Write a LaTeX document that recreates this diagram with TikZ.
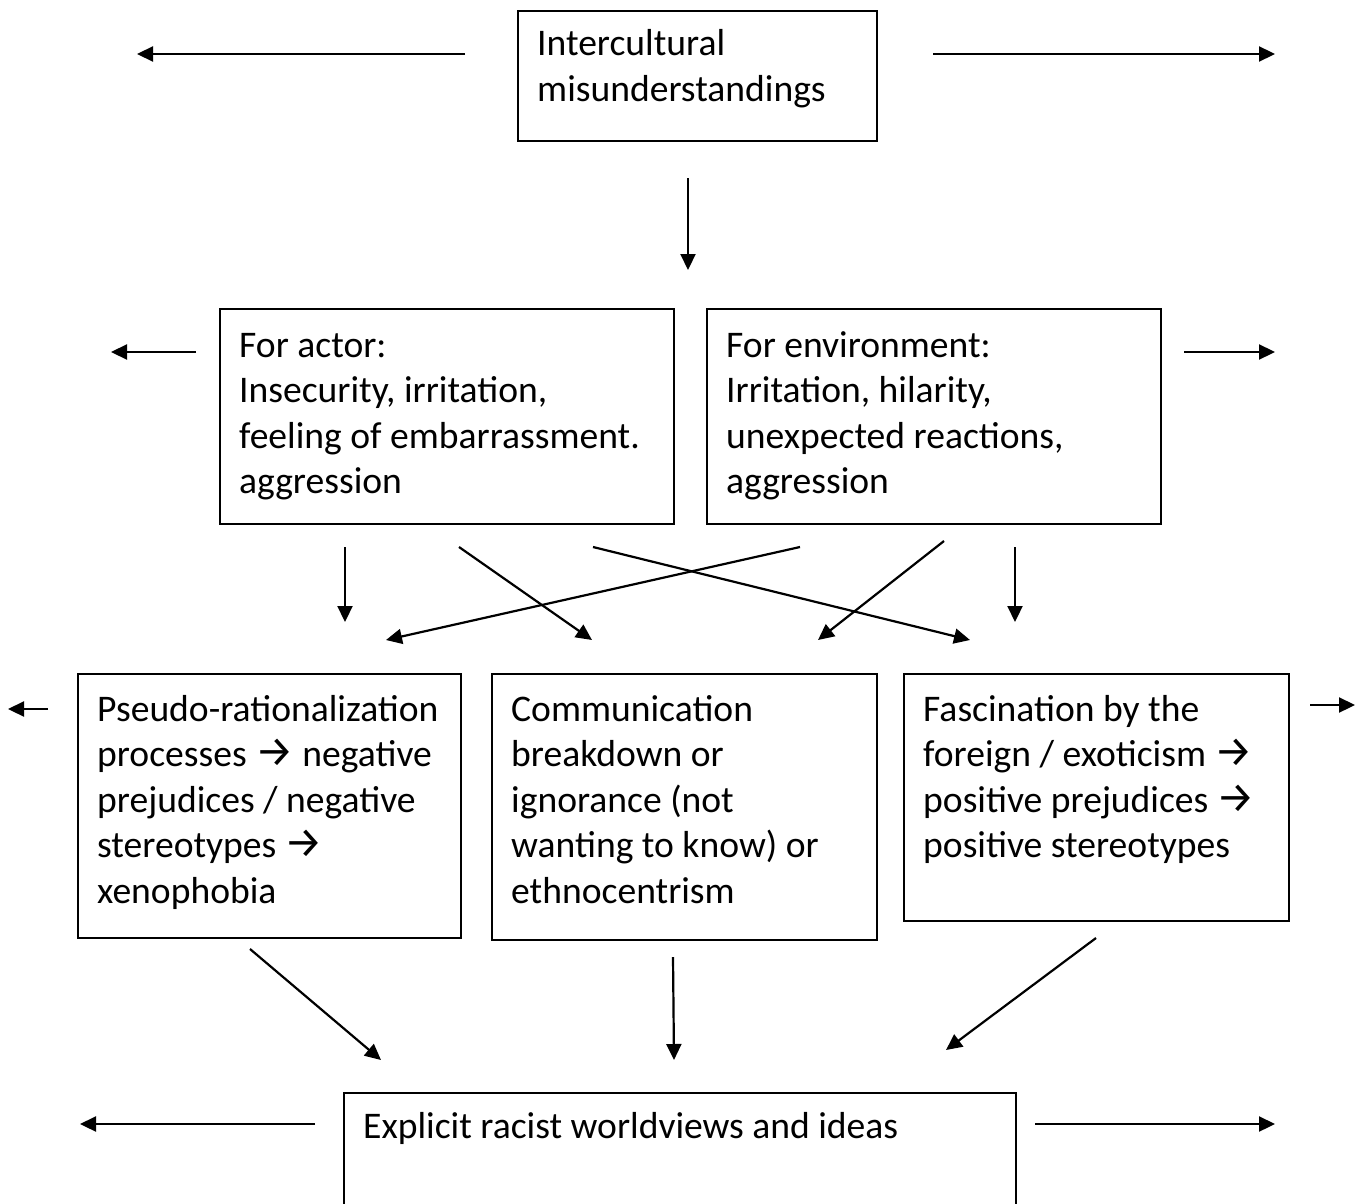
\documentclass[tikz,border=0pt]{standalone}
\usepackage{fontspec}
\setmainfont{Carlito}
\newfontfamily\arrfnt{Fira Sans}
\usetikzlibrary{arrows.meta}
\newcommand{\rarr}{{\arrfnt\fontsize{43}{45.5}\selectfont →}}
\begin{document}
\begin{tikzpicture}[x=1pt,y=-1pt,
  box/.style={draw, line width=1.6pt, rectangle, inner sep=0pt, anchor=north west},
  txt/.style={anchor=base west, inner sep=0pt, align=left, font=\fontsize{37.6}{45.5}\selectfont},
  arr/.style={line width=2.2pt, -{Triangle[length=16pt,width=15pt]}}]
\clip (0,0) rectangle (1362,1204);
\fill[white] (0,0) rectangle (1362,1204);
% boxes
\node[box, minimum width=359pt, minimum height=130pt] (top) at (517,10) {};
\node[box, minimum width=454pt, minimum height=215pt] (actor) at (219,308) {};
\node[box, minimum width=454pt, minimum height=215pt] (env) at (706,308) {};
\node[box, minimum width=383pt, minimum height=264pt] (pseudo) at (77,673) {};
\node[box, minimum width=385pt, minimum height=266pt] (comm) at (491,673) {};
\node[box, minimum width=385pt, minimum height=247pt] (fasc) at (903,673) {};
\node[box, minimum width=672pt, minimum height=160pt] (racist) at (343,1092) {};
% texts (base anchor = baseline of last line)
\node[txt] (ttop) at ([xshift=20pt,yshift=-91.5pt]top.north west) {Intercultural\\misunderstandings};
\node[txt] (tactor) at ([xshift=20pt,yshift=-185.5pt]actor.north west) {For actor:\\Insecurity, irritation,\\feeling of embarrassment.\\aggression};
\node[txt] (tenv) at ([xshift=20pt,yshift=-185.5pt]env.north west) {For environment:\\Irritation, hilarity,\\unexpected reactions,\\aggression};
\node[txt] (tpseudo) at ([xshift=20pt,yshift=-230pt]pseudo.north west) {Pseudo-rationalization\\processes \rarr{} negative\\prejudices / negative\\stereotypes \rarr\\xenophobia};
\node[txt] (tcomm) at ([xshift=20pt,yshift=-230pt]comm.north west) {Communication\\breakdown or\\ignorance (not\\wanting to know) or\\ethnocentrism};
\node[txt] (tfasc) at ([xshift=20pt,yshift=-184.5pt]fasc.north west) {Fascination by the\\foreign / exoticism \rarr\\positive prejudices \rarr\\positive stereotypes};
\node[txt] (tracist) at ([xshift=20pt,yshift=-46pt]racist.north west) {Explicit racist worldviews and ideas};
% arrow end points
\coordinate (a1s) at (465,54);   \coordinate (a1e) at (137,54);
\coordinate (a2s) at (933,54);   \coordinate (a2e) at (1275,54);
\coordinate (a3s) at (688,178);  \coordinate (a3e) at (688,270);
\coordinate (b1s) at (196,352);  \coordinate (b1e) at (111,352);
\coordinate (b2s) at (1184,352); \coordinate (b2e) at (1275,352);
\coordinate (c1s) at (345,547);  \coordinate (c1e) at (345,622);
\coordinate (c2s) at (459,547);  \coordinate (c2e) at (592,640);
\coordinate (c3s) at (593,547);  \coordinate (c3e) at (970,640);
\coordinate (c4s) at (800,547);  \coordinate (c4e) at (386,640);
\coordinate (c5s) at (944,541);  \coordinate (c5e) at (818,640);
\coordinate (c6s) at (1015,547); \coordinate (c6e) at (1015,622);
\coordinate (d1s) at (48,709);   \coordinate (d1e) at (8,709);
\coordinate (d2s) at (1310,705); \coordinate (d2e) at (1355,705);
\coordinate (e1s) at (250,949);  \coordinate (e1e) at (381,1060);
\coordinate (e2s) at (673,957);  \coordinate (e2e) at (674,1060);
\coordinate (e3s) at (1096,938); \coordinate (e3e) at (946,1050);
\coordinate (f1s) at (315,1124); \coordinate (f1e) at (80,1124);
\coordinate (f2s) at (1035,1124);\coordinate (f2e) at (1275,1124);
\foreach \n in {a1,a2,a3,b1,b2,c1,c2,c3,c4,c5,c6,d1,d2,e1,e2,e3,f1,f2}
  \draw[arr] (\n s) -- (\n e);
\end{tikzpicture}
\end{document}
